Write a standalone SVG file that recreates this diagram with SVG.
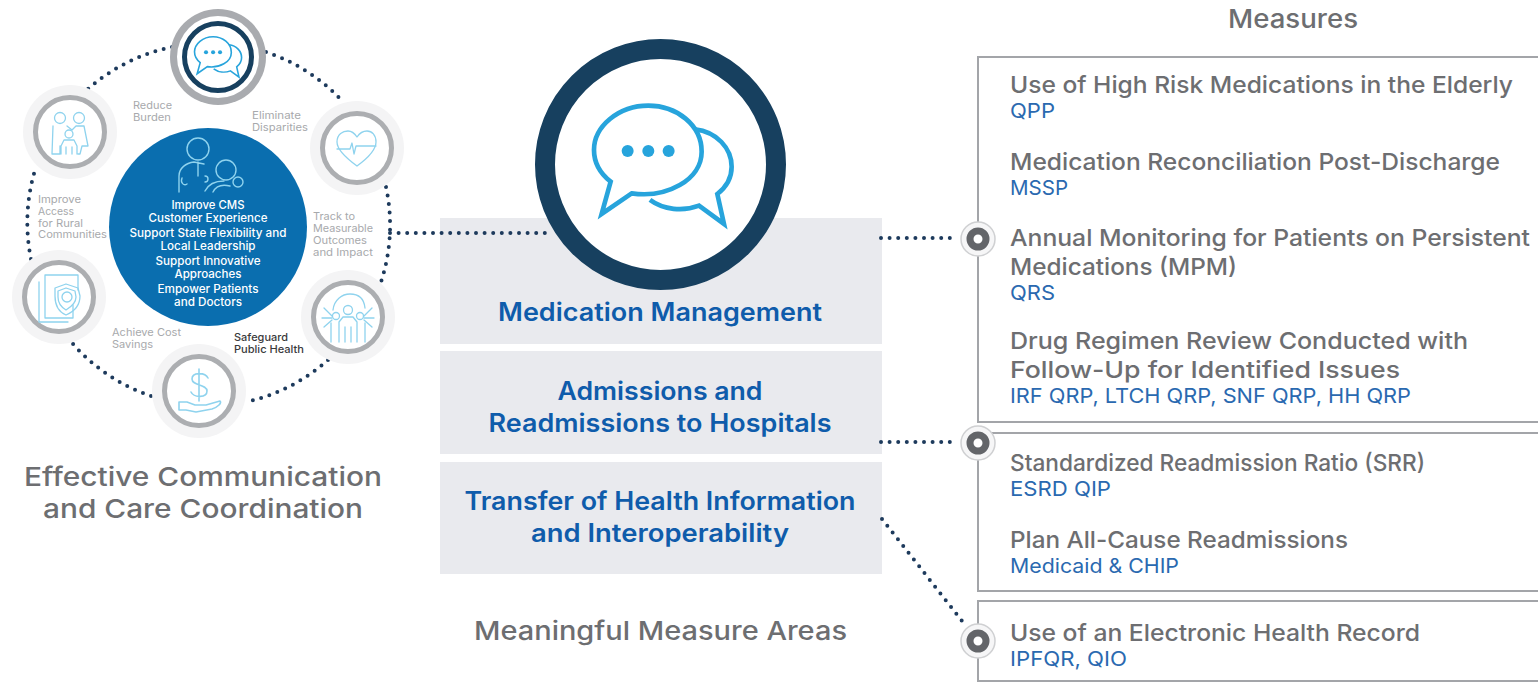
<svg xmlns="http://www.w3.org/2000/svg" width="1538" height="682" viewBox="0 0 1538 682">
<style>
text{font-family:Inter,"Liberation Sans",sans-serif;font-weight:500}
.m{font-size:23.5px;fill:#6d6e71}
.b{font-size:20px;fill:#2a69b0;font-weight:400}
.h{font-size:26px;fill:#6d6e71}
.c{font-size:25px;fill:#0f5cab;font-weight:600;text-anchor:middle}
.s{font-size:10.5px;fill:#a7a9ac;font-weight:400}
.w{font-size:11.5px;fill:#fff;text-anchor:middle}
.dots{fill:none;stroke:#1d3a5c;stroke-width:4;stroke-linecap:round;stroke-dasharray:0 8.6}
.panel{fill:#fff;stroke:#a3a5a9;stroke-width:2}
.area{fill:#e9eaee}
.halo{fill:#f4f4f5}
.ring{fill:#fff;stroke:#acaeb1;stroke-width:5}
.i{fill:none;stroke:#8fd3ee;stroke-width:1.3;stroke-linecap:round;stroke-linejoin:round}
.bub{fill:none;stroke:#27a4dc;stroke-width:14;stroke-linejoin:miter}
.sd{fill:#27a4dc}
.hub1{fill:#f6f6f7;stroke:#cfd0d2;stroke-width:1.5}
.hub2{fill:#fff;stroke:#636569;stroke-width:7}
</style>
<defs>
<g id="chat">
<path class="bub" d="M335 490C440 505 545 450 545 365C545 285 470 227 385 227C295 227 222 290 222 360C222 400 240 430 272 455L245 552Z"/>
<path class="bub" d="M525 298C590 305 635 355 635 410C635 445 620 470 592 492L612 582L537 527C490 545 430 540 390 510"/>
<circle class="sd" cx="323" cy="363" r="18"/><circle class="sd" cx="385" cy="363" r="18"/><circle class="sd" cx="446" cy="363" r="18"/>
</g>
<g id="hub"><circle class="hub1" r="17"/><circle class="hub2" r="8"/></g>
</defs>

<g id="area-boxes">
<rect class="area" x="440" y="218" width="442" height="126"/>
<rect class="area" x="440" y="351" width="442" height="103"/>
<rect class="area" x="440" y="462" width="442" height="112"/>
</g>

<g id="connectors">
<path class="dots" d="M172 47A182 182 0 0 0 88 89"/>
<path class="dots" d="M266 52A182 182 0 0 1 344 103"/>
<path class="dots" d="M386 187A182 182 0 0 1 381 282"/>
<path class="dots" d="M328 360A182 182 0 0 1 246 402"/>
<path class="dots" d="M151 396A182 182 0 0 1 73 344"/>
<path class="dots" d="M31 259A182 182 0 0 1 36 167"/>
<path class="dots" d="M390 233H548"/>
<path class="dots" d="M881 238H958"/>
<path class="dots" d="M881 442H958"/>
<path class="dots" d="M882 519L966 626"/>
</g>

<g id="node-top">
<circle cx="218" cy="57" r="48" fill="#a9abaf"/>
<circle cx="218" cy="57" r="41" fill="#fff"/>
<circle cx="218" cy="57" r="33.500" fill="#fff" stroke="#17405f" stroke-width="5"/>
<use href="#chat" transform="translate(169.200 10.800) scale(.114)"/>
</g>

<g id="node-family">
<circle class="halo" cx="70" cy="132" r="47"/><circle class="ring" cx="70" cy="132" r="34.500"/>
<g class="i"><circle cx="60" cy="118" r="5.500"/><circle cx="79" cy="118" r="5.500"/><circle cx="69" cy="134" r="4"/>
<path d="M53 126L52 154H60V146M67 126L72 130M72 130L76 126H84L88 146H82L80 154H78M61 154V146L64 140H74L77 146V154M66 154V147M72 154V147"/></g>
</g>

<g id="node-heart">
<circle class="halo" cx="357" cy="148" r="47"/><circle class="ring" cx="357" cy="148" r="34.500"/>
<path class="i" d="M357 166C346 158 337 150 337 142C337 134 343 131 348 131C352 131 355 134 357 137C359 134 363 131 367 131C372 131 376 135 376 142C376 150 368 158 357 166ZM337 149H350L352 143L354 154L356 146H376"/>
</g>

<g id="node-records">
<circle class="halo" cx="59" cy="297" r="47"/><circle class="ring" cx="59" cy="297" r="34.500"/>
<g class="i"><path d="M45 275H78V290M45 275V318H73V305M39 282V322H68"/><path d="M66 284L78 288L80 296C80 306 73 312 66 315C59 312 55 306 55 296V288Z"/><path d="M66 288L75 291L76 297C76 303 71 307 66 310C61 307 58 303 58 297V291Z"/><circle cx="67" cy="297" r="5"/></g>
</g>

<g id="node-hand">
<circle class="halo" cx="199" cy="391" r="47"/><circle class="ring" cx="199" cy="391" r="34.500"/>
<g class="i" style="stroke-width:1.6"><path d="M208 378C205 372 192 372 192 379C192 386 207 384 207 391C207 398 194 398 191 392M199 369V401"/><path d="M179 402H187L195 405H206L220 401C222 403 218 407 212 409L196 412L186 410H179Z"/></g>
</g>

<g id="node-people">
<circle class="halo" cx="348" cy="317" r="47"/><circle class="ring" cx="348" cy="317" r="34.500"/>
<g class="i"><circle cx="348" cy="310" r="4.500"/><circle cx="336" cy="316" r="3.500"/><circle cx="360" cy="316" r="3.500"/><path d="M339 342V322L343 317H353L357 322V342M345 342V327M351 342V327M331 342V323M365 342V323"/><path d="M322 318H332M324 308L332 316M324 327L332 320M374 318H364M372 308L364 316M372 327L364 320M333 310C334 300 342 294 350 294C358 294 364 298 365 308"/></g>
</g>

<g id="node-center">
<circle cx="208" cy="227" r="99" fill="#0a6eaf"/>
<g fill="none" stroke="#8fd3ee" stroke-width="1.4" stroke-linecap="round">
<circle cx="198" cy="149" r="11"/><path d="M179 192V176C179 168 186 163 194 162L204 164M182 178C180 183 184 186 187 184M198 162V176M205 176A3 3 0 1 1 205 182"/>
<circle cx="226" cy="170" r="10"/><circle cx="238" cy="182" r="5"/><path d="M205 191C209 183 216 181 224 181M213 192C216 186 222 184 230 186"/>
</g>
<text class="w" x="208" y="209" textLength="73" lengthAdjust="spacingAndGlyphs">Improve CMS</text>
<text class="w" x="208" y="222" textLength="119" lengthAdjust="spacingAndGlyphs">Customer Experience</text>
<text class="w" x="208" y="237" textLength="157" lengthAdjust="spacingAndGlyphs">Support State Flexibility and</text>
<text class="w" x="208" y="250" textLength="95" lengthAdjust="spacingAndGlyphs">Local Leadership</text>
<text class="w" x="208" y="265" textLength="105" lengthAdjust="spacingAndGlyphs">Support Innovative</text>
<text class="w" x="208" y="278" textLength="67" lengthAdjust="spacingAndGlyphs">Approaches</text>
<text class="w" x="208" y="293" textLength="101" lengthAdjust="spacingAndGlyphs">Empower Patients</text>
<text class="w" x="208" y="306" textLength="68" lengthAdjust="spacingAndGlyphs">and Doctors</text>
</g>

<g id="ring-labels">
<text class="s" x="133" y="109" textLength="39" lengthAdjust="spacingAndGlyphs">Reduce</text>
<text class="s" x="133" y="121" textLength="38" lengthAdjust="spacingAndGlyphs">Burden</text>
<text class="s" x="252" y="119" textLength="49" lengthAdjust="spacingAndGlyphs">Eliminate</text>
<text class="s" x="252" y="131" textLength="56" lengthAdjust="spacingAndGlyphs">Disparities</text>
<text class="s" x="38" y="203" textLength="43" lengthAdjust="spacingAndGlyphs">Improve</text>
<text class="s" x="38" y="215" textLength="36" lengthAdjust="spacingAndGlyphs">Access</text>
<text class="s" x="38" y="227" textLength="45" lengthAdjust="spacingAndGlyphs">for Rural</text>
<text class="s" x="38" y="238" textLength="69" lengthAdjust="spacingAndGlyphs">Communities</text>
<text class="s" x="313" y="220" textLength="42" lengthAdjust="spacingAndGlyphs">Track to</text>
<text class="s" x="313" y="232" textLength="60" lengthAdjust="spacingAndGlyphs">Measurable</text>
<text class="s" x="313" y="244" textLength="54" lengthAdjust="spacingAndGlyphs">Outcomes</text>
<text class="s" x="313" y="256" textLength="60" lengthAdjust="spacingAndGlyphs">and Impact</text>
<text class="s" x="112" y="336" textLength="69" lengthAdjust="spacingAndGlyphs">Achieve Cost</text>
<text class="s" x="112" y="348" textLength="41" lengthAdjust="spacingAndGlyphs">Savings</text>
<text class="s" x="234" y="341" textLength="54" lengthAdjust="spacingAndGlyphs" style="fill:#3a3a3c;font-weight:500">Safeguard</text>
<text class="s" x="234" y="353" textLength="70" lengthAdjust="spacingAndGlyphs" style="fill:#3a3a3c;font-weight:500">Public Health</text>
</g>

<g id="title-left">
<text class="h" x="24" y="486" textLength="358" lengthAdjust="spacingAndGlyphs">Effective Communication</text>
<text class="h" x="43" y="518" textLength="320" lengthAdjust="spacingAndGlyphs">and Care Coordination</text>
</g>

<g id="node-large-icon">
<circle cx="660.500" cy="164.500" r="115.500" fill="#fff" stroke="#17405f" stroke-width="20"/>
<use href="#chat" transform="translate(520 30) scale(.3333)"/>
</g>

<g id="area-labels">
<text class="c" x="660" y="321" textLength="324" lengthAdjust="spacingAndGlyphs">Medication Management</text>
<text class="c" x="660" y="400" textLength="205" lengthAdjust="spacingAndGlyphs">Admissions and</text>
<text class="c" x="660" y="432" textLength="343" lengthAdjust="spacingAndGlyphs">Readmissions to Hospitals</text>
<text class="c" x="660" y="510" textLength="391" lengthAdjust="spacingAndGlyphs">Transfer of Health Information</text>
<text class="c" x="660" y="542" textLength="258" lengthAdjust="spacingAndGlyphs">and Interoperability</text>
<text class="h" x="474" y="640" textLength="373" lengthAdjust="spacingAndGlyphs">Meaningful Measure Areas</text>
<text class="h" x="1228" y="28" textLength="130" lengthAdjust="spacingAndGlyphs">Measures</text>
</g>

<g id="panel-1">
<rect class="panel" x="978" y="57" width="570" height="365"/>
<text class="m" x="1010" y="93" textLength="503" lengthAdjust="spacingAndGlyphs">Use of High Risk Medications in the Elderly</text>
<text class="b" x="1010" y="118" textLength="45" lengthAdjust="spacingAndGlyphs">QPP</text>
<text class="m" x="1010" y="170" textLength="490" lengthAdjust="spacingAndGlyphs">Medication Reconciliation Post-Discharge</text>
<text class="b" x="1010" y="195" textLength="58" lengthAdjust="spacingAndGlyphs">MSSP</text>
<text class="m" x="1010" y="246" textLength="520" lengthAdjust="spacingAndGlyphs">Annual Monitoring for Patients on Persistent</text>
<text class="m" x="1010" y="275" textLength="227" lengthAdjust="spacingAndGlyphs">Medications (MPM)</text>
<text class="b" x="1010" y="300" textLength="45" lengthAdjust="spacingAndGlyphs">QRS</text>
<text class="m" x="1010" y="349" textLength="458" lengthAdjust="spacingAndGlyphs">Drug Regimen Review Conducted with</text>
<text class="m" x="1010" y="378" textLength="390" lengthAdjust="spacingAndGlyphs">Follow-Up for Identified Issues</text>
<text class="b" x="1010" y="403" textLength="401" lengthAdjust="spacingAndGlyphs">IRF QRP, LTCH QRP, SNF QRP, HH QRP</text>
</g>
<g id="panel-2">
<rect class="panel" x="978" y="433" width="570" height="158"/>
<text class="m" x="1010" y="471" textLength="415" lengthAdjust="spacingAndGlyphs">Standardized Readmission Ratio (SRR)</text>
<text class="b" x="1010" y="496" textLength="101" lengthAdjust="spacingAndGlyphs">ESRD QIP</text>
<text class="m" x="1010" y="548" textLength="338" lengthAdjust="spacingAndGlyphs">Plan All-Cause Readmissions</text>
<text class="b" x="1010" y="573" textLength="169" lengthAdjust="spacingAndGlyphs">Medicaid &amp; CHIP</text>
</g>
<g id="panel-3">
<rect class="panel" x="978" y="601" width="570" height="80"/>
<text class="m" x="1010" y="641" textLength="410" lengthAdjust="spacingAndGlyphs">Use of an Electronic Health Record</text>
<text class="b" x="1010" y="666" textLength="117" lengthAdjust="spacingAndGlyphs">IPFQR, QIO</text>
</g>
<g id="hubs">
<use href="#hub" x="978" y="239"/>
<use href="#hub" x="978" y="443"/>
<use href="#hub" x="978" y="641"/>
</g>
</svg>
